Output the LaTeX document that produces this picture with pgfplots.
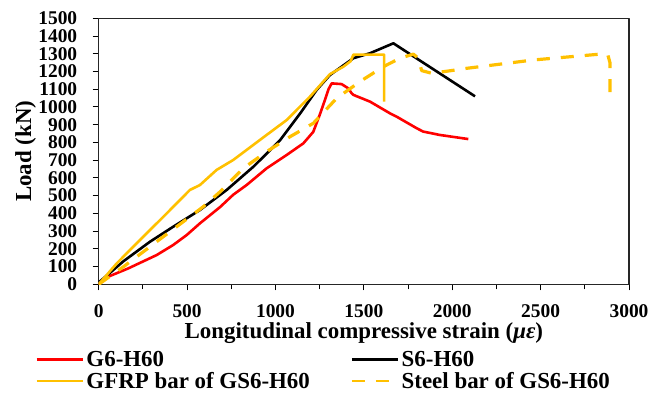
\documentclass[border=0pt]{standalone}
\usepackage{fontspec}
\setmainfont{Liberation Serif}
\usepackage{pgfplots}
\pgfplotsset{compat=1.18}
\definecolor{myred}{RGB}{255,0,0}
\definecolor{gold}{RGB}{255,192,0}
\begin{document}
\begin{tikzpicture}
\useasboundingbox (-98.7bp,-108.7bp) rectangle (559.3bp,284.3bp);
\begin{axis}[
  at={(0,0)}, anchor=south west,
  scale only axis, width=530.3bp, height=266bp,
  xmin=0, xmax=3000, ymin=0, ymax=1500,
  xtick distance=500, ytick distance=100, minor x tick num=1,
  tick pos=left, tick align=outside,
  major tick length=6bp, minor tick length=5bp,
  every tick/.style={black, line width=1pt},
  axis line style={line width=1.2pt, draw=black!85},
  /pgf/number format/assume math mode=true,
  /pgf/number format/1000 sep={},
  tick label style={font=\fontsize{19.5}{19.5}\selectfont\bfseries, inner ysep=0.5bp},
  yticklabel style={xshift=-12bp},
  xticklabel style={yshift=-14bp},
  xlabel={Longitudinal compressive strain (\textit{με})},
  ylabel={Load (kN)},
  label style={font=\fontsize{23}{23}\selectfont\bfseries},
  xlabel style={at={(axis description cs:0.5,0)}, anchor=base, yshift=-54.5bp},
  ylabel style={at={(axis description cs:-0.1275,0.5)}, anchor=base},
  legend columns=2,
  legend cell align=left,
  legend image code/.code={\draw[#1, line width=2.8bp] (0bp,0bp) -- (46bp,0bp);},
  legend style={draw=none, fill=none, at={(axis description cs:0,0)}, anchor=north west,
    xshift=-63.7bp, yshift=-67bp, font=\fontsize{23}{23}\selectfont\bfseries,
    inner xsep=0pt, inner ysep=0pt, row sep=4bp,
    nodes={inner xsep=2.5bp, inner ysep=0bp},
    /tikz/every even column/.append style={column sep=38bp}},
  line join=round,
]
\addplot[myred, line width=2.6bp] coordinates {
(0,0) (54,43) (168,90) (328,165) (422,222) (498,278) (573,344) (686,435) (761,505)
(837,560) (950,654) (1063,729) (1158,795) (1214,860) (1252,960) (1280,1040) (1300,1100)
(1318,1133) (1374,1129) (1412,1105) (1431,1077) (1441,1068) (1535,1030) (1648,964)
(1686,945) (1799,880) (1836,861) (1931,842) (2091,819)};
\addlegendentry{G6-H60}
\addplot[black, line width=2.6bp] coordinates {
(0,10) (140,130) (290,240) (422,325) (573,419) (724,532) (875,663) (950,737) (1027,814)
(1140,964) (1233,1096) (1308,1180) (1441,1275) (1535,1303) (1667,1359) (2129,1060)};
\addlegendentry{S6-H60}
\addplot[gold, line width=2.6bp] coordinates {
(0,0) (102,118) (234,250) (385,400) (516,532) (573,560) (667,645) (761,701) (912,814)
(1063,926) (1195,1058) (1308,1185) (1384,1227) (1425,1258) (1441,1295) (1615,1295) (1615,1030)};
\addlegendentry{GFRP bar of GS6-H60}
\addplot[gold, line width=3.2bp, dash pattern=on 13bp off 11bp] coordinates {
(0,0) (140,99) (290,212) (441,325) (592,438) (687,522) (818,654) (950,748) (1082,832)
(1214,908) (1346,1049) (1478,1143) (1610,1227) (1705,1275) (1780,1298) (1808,1275)
(1827,1205) (1884,1190) (1987,1204) (2082,1218) (2459,1265) (2837,1298) (2880,1295)
(2893,1247) (2893,1039)};
\addlegendentry{Steel bar of GS6-H60}
\end{axis}
\end{tikzpicture}
\end{document}
